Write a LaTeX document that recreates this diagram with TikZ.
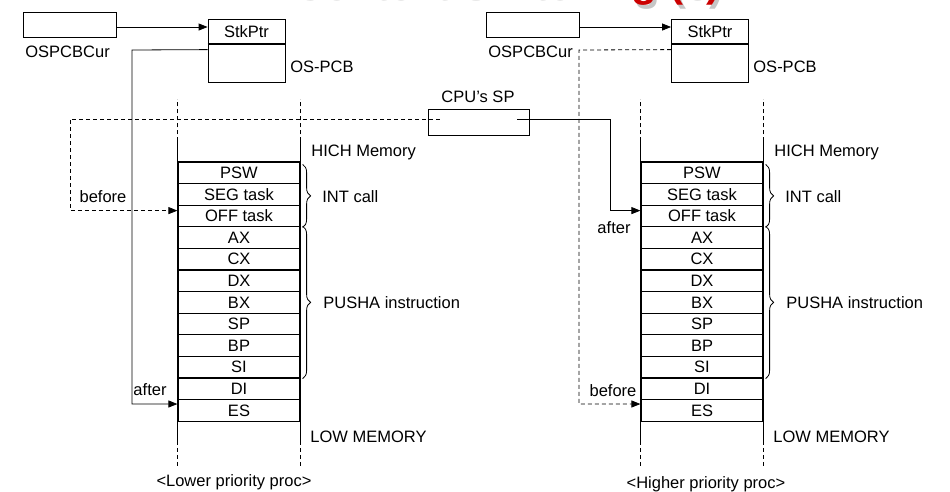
\documentclass[tikz,border=0pt]{standalone}
\usepackage{fontspec}
\setmainfont{Liberation Sans}
\usetikzlibrary{arrows.meta,decorations.pathreplacing}
\definecolor{titlered}{RGB}{204,0,0}

\begin{document}
\begin{tikzpicture}[x=1pt, y=-1pt, line width=0.8pt, >={Triangle[length=9pt,width=7pt]},
  every node/.style={font=\fontsize{16.5}{18}\selectfont},
  cell/.style={draw, line width=1.2pt, minimum width=122pt, minimum height=21.6pt, inner sep=0pt},
  curbox/.style={draw, minimum width=93pt, minimum height=25pt, inner sep=0pt},
  lbl/.style={inner sep=0pt, anchor=west},
  guide/.style={dash pattern=on 4pt off 3pt},
  bigtitle/.style={font=\bfseries\fontsize{42}{44}\selectfont, anchor=south east, inner sep=0pt}]
\useasboundingbox[fill=white] (0,0) rectangle (950,491);

% title, cut by the top edge
\begin{scope}
\clip (0,0) rectangle (950,491);
\node[bigtitle, text=gray!45] (titleshadow) at (724,9.5) {Context Switching (3)};
\node[bigtitle, text=titlered] (title) at (721,6) {Context Switching (3)};
\end{scope}

% lower priority side
\node[curbox] (curL) at (69.5,24.5) {};
\node[lbl] (curLlbl) at (25,52) {OSPCBCur};
\node[draw, minimum width=77pt, minimum height=25pt, inner sep=0pt] (stkL) at (246.5,31.5) {StkPtr};
\node[draw, minimum width=77pt, minimum height=38pt, inner sep=0pt] (pcbL) at (246.5,63) {};
\draw[line width=2pt] (stkL.south west) -- (stkL.south east);
\node[lbl] (pcbLlbl) at (290,67) {OS-PCB};

% higher priority side
\node[curbox] (curR) at (533,24.5) {};
\node[lbl] (curRlbl) at (488,52) {OSPCBCur};
\node[draw, minimum width=77pt, minimum height=25pt, inner sep=0pt] (stkR) at (710,31.5) {StkPtr};
\node[draw, minimum width=77pt, minimum height=38pt, inner sep=0pt] (pcbR) at (710,63) {};
\draw[line width=2pt] (stkR.south west) -- (stkR.south east);
\node[lbl] (pcbRlbl) at (753,67) {OS-PCB};

% CPU stack pointer
\node[draw, minimum width=101pt, minimum height=26pt, inner sep=0pt] (sp) at (478.5,122) {};
\node (splbl) at (478,97) {CPU’s SP};

% the two stacks
\foreach \t [count=\i] in {PSW, SEG task, OFF task, AX, CX, DX, BX, SP, BP, SI, DI, ES} {
  \node[cell] (L\i) at (239,151.2+21.6*\i) {\t};
  \node[cell] (R\i) at (702,151.2+21.6*\i) {\t};
}
\foreach \s in {L,R} {
  \draw[line width=1.2pt] ([yshift=20pt]\s1.north west) -- ([yshift=-19pt]\s12.south west);
  \draw[line width=1.2pt] ([yshift=20pt]\s1.north east) -- ([yshift=-19pt]\s12.south east);
  \draw[guide] ([yshift=20pt]\s1.north west) -- ++(0,-42);
  \draw[guide] ([yshift=20pt]\s1.north east) -- ++(0,-42);
  \draw[guide] ([yshift=-19pt]\s12.south west) -- ++(0,27);
  \draw[guide] ([yshift=-19pt]\s12.south east) -- ++(0,27);
  \draw[decorate, decoration={brace, amplitude=8pt}] ([xshift=2pt,yshift=-3pt]\s1.north east) -- ([xshift=2pt]\s3.south east);
  \draw[decorate, decoration={brace, amplitude=8pt}] ([xshift=2pt]\s4.north east) -- ([xshift=2pt]\s10.south east);
}

\node[lbl] (hiL) at (311,152) {HICH Memory};
\node[lbl] (loL) at (310,437) {LOW MEMORY};
\node[lbl] (intL) at (322,197) {INT call};
\node[lbl] (pushL) at (323,303) {PUSHA instruction};
\node (procL) at (234,482) {<Lower priority proc>};

\node[lbl] (hiR) at (774,152) {HICH Memory};
\node[lbl] (loR) at (773,437) {LOW MEMORY};
\node[lbl] (intR) at (785,197) {INT call};
\node[lbl] (pushR) at (786,303) {PUSHA instruction};
\node (procR) at (706,484) {<Higher priority proc>};

\node (beforeL) at (103,197) {before};
\node (afterL) at (150,390) {after};
\node (afterR) at (614,228) {after};
\node (beforeR) at (613,391) {before};

% pointers
\draw[->] ([yshift=-2.5pt]curL.east) -- ([yshift=-2.5pt]curL.east -| stkL.west);
\draw[->] ([yshift=-2.5pt]curR.east) -- ([yshift=-2.5pt]curR.east -| stkR.west);
\draw[->] ([yshift=-6pt]pcbL.north west) -- (132,50) |- ([yshift=-5pt]L12.north west);
\draw[guide,->] ([yshift=-6pt]pcbR.north west) -- (579,50) |- ([yshift=-5pt]R12.north west);
\draw[guide,->] ([xshift=12pt,yshift=3pt]sp.west) -- (70,119) |- ([yshift=-6pt]L3.north west);
\draw[->] ([xshift=-12pt,yshift=3pt]sp.east) -- (610,119) |- ([yshift=-6pt]R3.north west);

\end{tikzpicture}
\end{document}
